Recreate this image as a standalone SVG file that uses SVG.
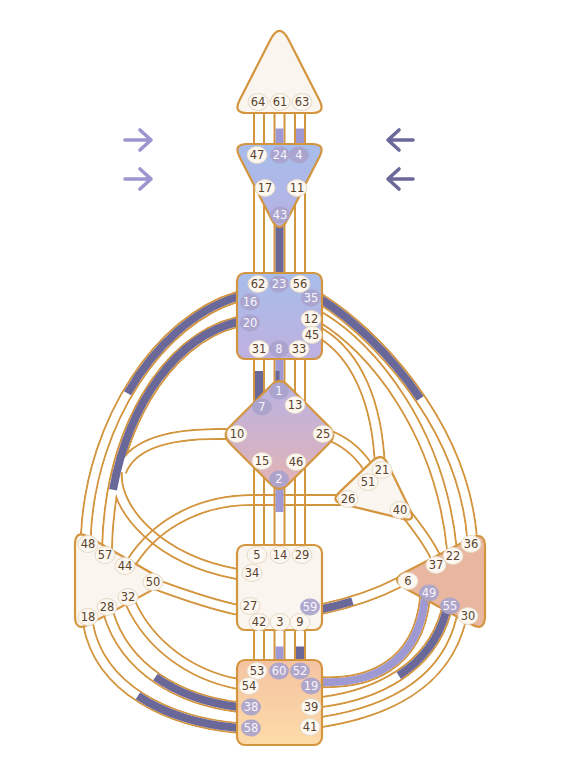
<svg xmlns="http://www.w3.org/2000/svg" width="562" height="762" viewBox="0 0 562 762">
<style>
.c{stroke:#d4953f;stroke-width:2.2;stroke-linejoin:round}
.v{fill:none;stroke:#d4953f;stroke-width:2}
.t{fill:none;stroke:#d4953f;stroke-width:12}
.mw{fill:none;stroke:#fff;stroke-width:12}
.mb{fill:none;stroke:#000;stroke-width:8}
.fd{fill:none;stroke:#6a6799;stroke-width:8}
.fl{fill:none;stroke:#9f99d3;stroke-width:8}
.gi{fill:#fcf8f1;stroke:#e6d9c6;stroke-width:1}
.ga{fill:#a9a3cc;fill-opacity:0.92}
.ti,.ta{font-family:"DejaVu Sans",sans-serif;font-size:11.5px;text-anchor:middle}
.ti{fill:#5a4430}
.ta{fill:#f7f5fb}
</style>
<defs>
<linearGradient id="gAjna" x1="0" y1="0" x2="0" y2="1"><stop offset="0" stop-color="#a7bdeb"/><stop offset="1" stop-color="#b6b2e2"/></linearGradient>
<linearGradient id="gThroat" x1="0" y1="0" x2="0" y2="1"><stop offset="0" stop-color="#a8bdea"/><stop offset="1" stop-color="#beb0df"/></linearGradient>
<linearGradient id="gG" x1="0" y1="0" x2="0" y2="1"><stop offset="0" stop-color="#b9b2e4"/><stop offset="1" stop-color="#e3b3b4"/></linearGradient>
<linearGradient id="gRoot" x1="0" y1="0" x2="0" y2="1"><stop offset="0" stop-color="#f4c3a2"/><stop offset="1" stop-color="#fddba8"/></linearGradient>
<path id="p1648" pathLength="100" d="M247,296 L237,297 C160,320 92,420 86,533 L87,545"/>
<path id="p2057" pathLength="100" d="M247,321 L237,322 C165,340 110,430 107,548 L107,558"/>
<path id="p10" pathLength="100" d="M232,434 L225,434 C175,433 132,442 121,472"/>
<path id="p34" pathLength="100" d="M117,470 C113,510 160,560 237,574 L247,575"/>
<path id="p3536" pathLength="100" d="M312,301 L322,300 C370,330 462,420 472,537 L473,547"/>
<path id="p1222" pathLength="100" d="M312,318 L322,318 C372,348 440,430 452,550 L453,558"/>
<path id="p4521" pathLength="100" d="M312,334 L322,334 C355,355 378,400 380,470"/>
<path id="p2551" pathLength="100" d="M326,434 L331,436 C345,442 360,452 372,474"/>
<path id="p2644" pathLength="100" d="M345,500 L252,500 C197,500 150,527 127,570"/>
<path id="p2750" pathLength="100" d="M152,584 L160,586 C190,597 215,605 238,610 L246,611"/>
<path id="p5432" pathLength="100" d="M126,598 L131,604 C150,645 190,675 238,684 L246,685"/>
<path id="p3828" pathLength="100" d="M104,606 L108,612 C125,670 180,700 238,707 L246,707"/>
<path id="p5818" pathLength="100" d="M84,618 L88,624 C100,690 170,722 238,728 L246,728"/>
<path id="p1949" pathLength="100" d="M312,682 L322,682 C365,684 418,668 425,598 L426,590"/>
<path id="p3955" pathLength="100" d="M312,702 L322,702 C375,695 430,670 446,612 L448,605"/>
<path id="p4130" pathLength="100" d="M312,722 L322,722 C385,712 445,685 461,620 L463,612"/>
<path id="p596" pathLength="100" d="M312,609 L322,609 C350,603 375,595 400,582 L407,578"/>
<path id="p4037" pathLength="100" d="M400,506 L405,512 C415,525 428,540 437,560 L440,567"/>
<mask id="m1648" maskUnits="userSpaceOnUse" x="0" y="0" width="562" height="762"><use href="#p1648" class="mw"/><use href="#p1648" class="mb"/></mask>
<mask id="mCl" maskUnits="userSpaceOnUse" x="0" y="0" width="562" height="762"><use href="#p2057" class="mw"/><use href="#p10" class="mw"/><use href="#p34" class="mw"/><use href="#p2057" class="mb"/><use href="#p10" class="mb"/><use href="#p34" class="mb"/></mask>
<mask id="m3536" maskUnits="userSpaceOnUse" x="0" y="0" width="562" height="762"><use href="#p3536" class="mw"/><use href="#p3536" class="mb"/></mask>
<mask id="m1222" maskUnits="userSpaceOnUse" x="0" y="0" width="562" height="762"><use href="#p1222" class="mw"/><use href="#p1222" class="mb"/></mask>
<mask id="m4521" maskUnits="userSpaceOnUse" x="0" y="0" width="562" height="762"><use href="#p4521" class="mw"/><use href="#p4521" class="mb"/></mask>
<mask id="m2551" maskUnits="userSpaceOnUse" x="0" y="0" width="562" height="762"><use href="#p2551" class="mw"/><use href="#p2551" class="mb"/></mask>
<mask id="m2644" maskUnits="userSpaceOnUse" x="0" y="0" width="562" height="762"><use href="#p2644" class="mw"/><use href="#p2644" class="mb"/></mask>
<mask id="m2750" maskUnits="userSpaceOnUse" x="0" y="0" width="562" height="762"><use href="#p2750" class="mw"/><use href="#p2750" class="mb"/></mask>
<mask id="m5432" maskUnits="userSpaceOnUse" x="0" y="0" width="562" height="762"><use href="#p5432" class="mw"/><use href="#p5432" class="mb"/></mask>
<mask id="m3828" maskUnits="userSpaceOnUse" x="0" y="0" width="562" height="762"><use href="#p3828" class="mw"/><use href="#p3828" class="mb"/></mask>
<mask id="m5818" maskUnits="userSpaceOnUse" x="0" y="0" width="562" height="762"><use href="#p5818" class="mw"/><use href="#p5818" class="mb"/></mask>
<mask id="m1949" maskUnits="userSpaceOnUse" x="0" y="0" width="562" height="762"><use href="#p1949" class="mw"/><use href="#p1949" class="mb"/></mask>
<mask id="m3955" maskUnits="userSpaceOnUse" x="0" y="0" width="562" height="762"><use href="#p3955" class="mw"/><use href="#p3955" class="mb"/></mask>
<mask id="m4130" maskUnits="userSpaceOnUse" x="0" y="0" width="562" height="762"><use href="#p4130" class="mw"/><use href="#p4130" class="mb"/></mask>
<mask id="m596" maskUnits="userSpaceOnUse" x="0" y="0" width="562" height="762"><use href="#p596" class="mw"/><use href="#p596" class="mb"/></mask>
<mask id="m4037" maskUnits="userSpaceOnUse" x="0" y="0" width="562" height="762"><use href="#p4037" class="mw"/><use href="#p4037" class="mb"/></mask>
</defs>
<rect width="562" height="762" fill="#fff"/>

<g id="connectors">
<path class="v" d="M254,108V150M264,108V150M274.5,108V150M284.5,108V150M295,108V150M305,108V150"/>
<path class="v" d="M254,150V276M264,150V276M274.5,150V276M284.5,150V276M295,150V276M305,150V276"/>
<path class="v" d="M254,356V420M264,356V420M274.5,356V420M284.5,356V420M295,356V420M305,356V420"/>
<path class="v" d="M254,450V548M264,450V548M274.5,450V548M284.5,450V548M295,450V548M305,450V548"/>
<path class="v" d="M254,627V663M264,627V663M274.5,627V663M284.5,627V663M295,627V663M305,627V663"/>
<use href="#p1648" class="t" mask="url(#m1648)"/>
<use href="#p2057" class="t" mask="url(#mCl)"/>
<use href="#p10" class="t" mask="url(#mCl)"/>
<use href="#p34" class="t" mask="url(#mCl)"/>
<use href="#p3536" class="t" mask="url(#m3536)"/>
<use href="#p1222" class="t" mask="url(#m1222)"/>
<use href="#p4521" class="t" mask="url(#m4521)"/>
<use href="#p2551" class="t" mask="url(#m2551)"/>
<use href="#p2644" class="t" mask="url(#m2644)"/>
<use href="#p2750" class="t" mask="url(#m2750)"/>
<use href="#p5432" class="t" mask="url(#m5432)"/>
<use href="#p3828" class="t" mask="url(#m3828)"/>
<use href="#p5818" class="t" mask="url(#m5818)"/>
<use href="#p1949" class="t" mask="url(#m1949)"/>
<use href="#p3955" class="t" mask="url(#m3955)"/>
<use href="#p4130" class="t" mask="url(#m4130)"/>
<use href="#p596" class="t" mask="url(#m596)"/>
<use href="#p4037" class="t" mask="url(#m4037)"/>
<path class="fl" d="M279.5,128.5V146M300,128.5V146"/>
<path class="fd" d="M279.5,215V275"/>
<path class="fd" d="M259,371V410"/>
<path class="fl" d="M279.5,358V390"/>
<path class="fd" style="stroke-width:4" d="M277.5,371V390"/>
<path class="fl" d="M279.5,485V512"/>
<path class="fl" d="M279.5,646.5V661"/>
<path class="fd" d="M300,646.5V661"/>
<use href="#p1648" class="fd" style="stroke-dasharray:50 100"/>
<use href="#p2057" class="fd" style="stroke-dasharray:77 100"/>
<use href="#p3536" class="fd" style="stroke-dasharray:48.5 100"/>
<use href="#p596" class="fd" style="stroke-dasharray:41 100"/>
<use href="#p1949" class="fl"/>
<use href="#p3955" class="fd" style="stroke-dasharray:0 51 49"/>
<use href="#p3828" class="fd" style="stroke-dasharray:0 48 52"/>
<use href="#p5818" class="fd" style="stroke-dasharray:0 46 54"/>
</g>

<g id="head">
<path class="c" fill="#faf5ef" d="M270.4,39.8 Q279.5,22 288.6,39.8 L319.6,100.5 Q326,113 312,113 L247,113 Q233,113 239.4,100.5 Z"/>
<ellipse class="gi" cx="258" cy="102" rx="10" ry="8.5"/><text class="ti" x="258" y="106">64</text>
<ellipse class="gi" cx="280" cy="102" rx="10" ry="8.5"/><text class="ti" x="280" y="106">61</text>
<ellipse class="gi" cx="302" cy="102" rx="10" ry="8.5"/><text class="ti" x="302" y="106">63</text>
</g>

<g id="ajna">
<path class="c" fill="url(#gAjna)" d="M247,144 L312,144 Q326,144 319.6,156.5 L287.7,219 Q279.5,235 271.3,219 L239.4,156.5 Q233,144 247,144 Z"/>
<ellipse class="gi" cx="257" cy="155" rx="10" ry="8.5"/><text class="ti" x="257" y="159">47</text>
<ellipse class="ga" cx="280" cy="155" rx="10" ry="8.5"/><text class="ta" x="280" y="159">24</text>
<ellipse class="ga" cx="299" cy="155" rx="10" ry="8.5"/><text class="ta" x="299" y="159">4</text>
<ellipse class="gi" cx="265" cy="188" rx="10" ry="8.5"/><text class="ti" x="265" y="192">17</text>
<ellipse class="gi" cx="297" cy="188" rx="10" ry="8.5"/><text class="ti" x="297" y="192">11</text>
<ellipse class="ga" cx="280" cy="215" rx="10" ry="8.5"/><text class="ta" x="280" y="219">43</text>
</g>

<g id="throat">
<rect class="c" x="237" y="273" width="85" height="86" rx="8" fill="url(#gThroat)"/>
<ellipse class="gi" cx="258" cy="284" rx="10" ry="8.5"/><text class="ti" x="258" y="288">62</text>
<ellipse class="ga" cx="279" cy="284" rx="10" ry="8.5"/><text class="ta" x="279" y="288">23</text>
<ellipse class="gi" cx="300" cy="284" rx="10" ry="8.5"/><text class="ti" x="300" y="288">56</text>
<ellipse class="ga" cx="250" cy="302" rx="10" ry="8.5"/><text class="ta" x="250" y="306">16</text>
<ellipse class="ga" cx="311" cy="298" rx="10" ry="8.5"/><text class="ta" x="311" y="302">35</text>
<ellipse class="ga" cx="250" cy="323" rx="10" ry="8.5"/><text class="ta" x="250" y="327">20</text>
<ellipse class="gi" cx="311" cy="319" rx="10" ry="8.5"/><text class="ti" x="311" y="323">12</text>
<ellipse class="gi" cx="312" cy="335" rx="10" ry="8.5"/><text class="ti" x="312" y="339">45</text>
<ellipse class="gi" cx="259" cy="349" rx="10" ry="8.5"/><text class="ti" x="259" y="353">31</text>
<ellipse class="ga" cx="279" cy="349" rx="10" ry="8.5"/><text class="ta" x="279" y="353">8</text>
<ellipse class="gi" cx="299" cy="349" rx="10" ry="8.5"/><text class="ti" x="299" y="353">33</text>
</g>

<g id="g-center">
<path class="c" fill="url(#gG)" d="M271,385.5 Q279.5,377 288,385.5 L329,426.5 Q337.5,435 329,443.5 L288,484.5 Q279.5,493 271,484.5 L230,443.5 Q221.5,435 230,426.5 Z"/>
<ellipse class="ga" cx="279" cy="391" rx="10" ry="8.5"/><text class="ta" x="279" y="395">1</text>
<ellipse class="ga" cx="262" cy="407" rx="10" ry="8.5"/><text class="ta" x="262" y="411">7</text>
<ellipse class="gi" cx="295" cy="405" rx="10" ry="8.5"/><text class="ti" x="295" y="409">13</text>
<ellipse class="gi" cx="237" cy="434" rx="10" ry="8.5"/><text class="ti" x="237" y="438">10</text>
<ellipse class="gi" cx="323" cy="434" rx="10" ry="8.5"/><text class="ti" x="323" y="438">25</text>
<ellipse class="gi" cx="262" cy="461" rx="10" ry="8.5"/><text class="ti" x="262" y="465">15</text>
<ellipse class="gi" cx="296" cy="462" rx="10" ry="8.5"/><text class="ti" x="296" y="466">46</text>
<ellipse class="ga" cx="279" cy="479" rx="10" ry="8.5"/><text class="ta" x="279" y="483">2</text>
</g>

<g id="ego">
<path class="c" fill="#faf5ef" d="M372.5,460.9 Q382,452 387.7,463.7 L410.3,510.3 Q416,522 403.4,518.9 L342.6,504.1 Q330,501 339.5,492.1 Z"/>
<ellipse class="gi" cx="382" cy="470" rx="10" ry="8.5"/><text class="ti" x="382" y="474">21</text>
<ellipse class="gi" cx="368" cy="482" rx="10" ry="8.5"/><text class="ti" x="368" y="486">51</text>
<ellipse class="gi" cx="348" cy="499" rx="10" ry="8.5"/><text class="ti" x="348" y="503">26</text>
<ellipse class="gi" cx="400" cy="510" rx="10" ry="8.5"/><text class="ti" x="400" y="514">40</text>
</g>

<g id="spleen">
<path class="c" fill="#faf5ef" d="M88.9,537 L153.1,574 Q167,582 152.9,589.6 L89.1,624.4 Q75,632 75,616 L75,545 Q75,529 88.9,537 Z"/>
<ellipse class="gi" cx="88" cy="544" rx="10" ry="8.5"/><text class="ti" x="88" y="548">48</text>
<ellipse class="gi" cx="105" cy="555" rx="10" ry="8.5"/><text class="ti" x="105" y="559">57</text>
<ellipse class="gi" cx="125" cy="566" rx="10" ry="8.5"/><text class="ti" x="125" y="570">44</text>
<ellipse class="gi" cx="153" cy="582" rx="10" ry="8.5"/><text class="ti" x="153" y="586">50</text>
<ellipse class="gi" cx="128" cy="597" rx="10" ry="8.5"/><text class="ti" x="128" y="601">32</text>
<ellipse class="gi" cx="107" cy="607" rx="10" ry="8.5"/><text class="ti" x="107" y="611">28</text>
<ellipse class="gi" cx="88" cy="617" rx="10" ry="8.5"/><text class="ti" x="88" y="621">18</text>
</g>

<g id="sacral">
<rect class="c" x="237" y="545" width="85" height="85" rx="8" fill="#faf5ef"/>
<ellipse class="gi" cx="257" cy="555" rx="10" ry="8.5"/><text class="ti" x="257" y="559">5</text>
<ellipse class="gi" cx="280" cy="555" rx="10" ry="8.5"/><text class="ti" x="280" y="559">14</text>
<ellipse class="gi" cx="302" cy="555" rx="10" ry="8.5"/><text class="ti" x="302" y="559">29</text>
<ellipse class="gi" cx="252" cy="573" rx="10" ry="8.5"/><text class="ti" x="252" y="577">34</text>
<ellipse class="gi" cx="250" cy="606" rx="10" ry="8.5"/><text class="ti" x="250" y="610">27</text>
<ellipse class="ga" cx="310" cy="607" rx="10" ry="8.5"/><text class="ta" x="310" y="611">59</text>
<ellipse class="gi" cx="259" cy="622" rx="10" ry="8.5"/><text class="ti" x="259" y="626">42</text>
<ellipse class="gi" cx="280" cy="622" rx="10" ry="8.5"/><text class="ti" x="280" y="626">3</text>
<ellipse class="gi" cx="300" cy="622" rx="10" ry="8.5"/><text class="ti" x="300" y="626">9</text>
</g>

<g id="solar-plexus">
<path class="c" fill="#e9b7a0" d="M404.2,572.7 L470.8,538.3 Q485,531 485,547 L485,616 Q485,632 471,624.3 L404,587.7 Q390,580 404.2,572.7 Z"/>
<ellipse class="gi" cx="471" cy="544" rx="10" ry="8.5"/><text class="ti" x="471" y="548">36</text>
<ellipse class="gi" cx="453" cy="556" rx="10" ry="8.5"/><text class="ti" x="453" y="560">22</text>
<ellipse class="gi" cx="436" cy="565" rx="10" ry="8.5"/><text class="ti" x="436" y="569">37</text>
<ellipse class="gi" cx="408" cy="581" rx="10" ry="8.5"/><text class="ti" x="408" y="585">6</text>
<ellipse class="ga" cx="429" cy="593" rx="10" ry="8.5"/><text class="ta" x="429" y="597">49</text>
<ellipse class="ga" cx="450" cy="606" rx="10" ry="8.5"/><text class="ta" x="450" y="610">55</text>
<ellipse class="gi" cx="468" cy="616" rx="10" ry="8.5"/><text class="ti" x="468" y="620">30</text>
</g>

<g id="root">
<rect class="c" x="237" y="660" width="85" height="85" rx="8" fill="url(#gRoot)"/>
<ellipse class="gi" cx="257" cy="671" rx="10" ry="8.5"/><text class="ti" x="257" y="675">53</text>
<ellipse class="ga" cx="279" cy="671" rx="10" ry="8.5"/><text class="ta" x="279" y="675">60</text>
<ellipse class="ga" cx="300" cy="671" rx="10" ry="8.5"/><text class="ta" x="300" y="675">52</text>
<ellipse class="gi" cx="249" cy="686" rx="10" ry="8.5"/><text class="ti" x="249" y="690">54</text>
<ellipse class="ga" cx="311" cy="686" rx="10" ry="8.5"/><text class="ta" x="311" y="690">19</text>
<ellipse class="ga" cx="251" cy="707" rx="10" ry="8.5"/><text class="ta" x="251" y="711">38</text>
<ellipse class="gi" cx="311" cy="707" rx="10" ry="8.5"/><text class="ti" x="311" y="711">39</text>
<ellipse class="ga" cx="251" cy="728" rx="10" ry="8.5"/><text class="ta" x="251" y="732">58</text>
<ellipse class="gi" cx="310" cy="727" rx="10" ry="8.5"/><text class="ti" x="310" y="731">41</text>
</g>

<g id="arrows" fill="none" stroke-linecap="round" stroke-linejoin="round" stroke-width="3.6">
<path stroke="#9b96cf" d="M125,140 H151 M140,130 L151,140 L140,150"/>
<path stroke="#9b96cf" d="M125,179 H151 M140,169 L151,179 L140,189"/>
<path stroke="#6b6999" d="M413,140 H388 M399,130 L388,140 L399,150"/>
<path stroke="#6b6999" d="M413,179 H388 M399,169 L388,179 L399,189"/>
</g>
</svg>
